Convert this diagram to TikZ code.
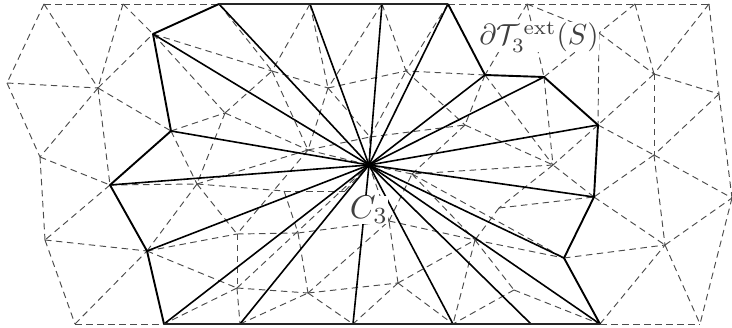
\documentclass[tikz,border=0pt]{standalone}
\tikzset{
  meshedge/.style={draw=black!70,line width=0.95pt,dash pattern=on 6.5pt off 4.5pt},
  bndedge/.style={draw=black,line width=1.9pt,line join=round},
  spoke/.style={draw=black,line width=1.6pt},
  flatedge/.style={draw=black!85,line width=2.4pt},
  lbl/.style={fill=white,inner sep=0pt,text=black!75,scale=2.9},
  lblb/.style={fill=white,inner sep=0pt,text=black!75,scale=3.3}
}
\begin{document}
\begin{tikzpicture}[x=1pt,y=-1pt]
\useasboundingbox (0,0) rectangle (732,328);
% boundary vertices
\foreach \n/\x/\y in {A/153/34,t1/219/4,t2/310/4,t3/382/4,t4/448/4,F/485/75,G/544/77,H/598/125,I/594/197,J/564/258,K/600/324,b4/531/324,b3/453/324,b2/353/324,b1/240/324,b0/164/324,M/147/251,N/110/185,O/171/131,ctr/369/165}
  \coordinate (\n) at (\x,\y);
% outer vertices
\foreach \n/\x/\y in {a/44/4,b/123/4,c/527/4,d/635/4,e/709/4,f/599/33,g/654/74,h/719/94,i/654/155,j/7/83,k/98/88,l/40/157,m/45/240,n/75/324,o/665/245,p/732/198,q/700/324}
  \coordinate (\n) at (\x,\y);
% inner vertices
\foreach \n/\x/\y in {vA/225/113,vB/272/71,vC/328/88,vD/308/150,vE/370/137,vF/406/71,vG/465/125,vH/553/165,vI/197/184,vJ/237/234,vK/237/288,vL/298/233,vM/284/191,vN/308/293,vP/398/283,vQ/389/221,vR/475/240,vS/412/174,vT/499/208,vU/514/290,vV/345/191}
  \coordinate (\n) at (\x,\y);
% dashed mesh
\foreach \u/\w in {a/b,b/t1,t4/c,c/d,d/e,K/q,n/b0,a/j,a/k,b/k,b/A,j/k,j/l,k/l,k/A,k/O,k/N,l/N,l/m,N/m,m/M,m/n,n/M,
  e/g,e/h,d/g,d/f,c/f,c/F,c/G,G/f,f/H,f/g,g/H,g/h,g/i,h/i,h/p,H/i,i/I,i/o,i/p,I/o,J/o,K/o,o/q,o/p,p/q,
  A/vA,O/vA,O/vI,A/vB,t1/vB,t2/vB,vA/vB,vA/vI,vA/vD,vB/vC,vB/vD,t2/vC,t3/vC,vC/vD,vC/vE,vC/vF,vD/vE,vD/vI,vD/vJ,vD/ctr,
  vE/vF,vE/vG,vE/ctr,t3/vF,t4/vF,F/vF,vF/vG,F/vG,vG/vH,vG/vS,F/vH,G/vH,H/vH,I/vH,vH/vT,vH/vS,
  N/vI,M/vI,vI/vJ,vI/vM,vM/vV,vV/ctr,M/vJ,M/vK,vJ/vK,vK/b1,vK/b0,vK/ctr,vJ/vL,vL/vQ,vM/vL,vL/vN,vK/vN,b1/vN,vN/vP,vN/vQ,vN/b2,
  vP/vQ,vP/vR,vP/b2,vP/b3,vQ/vS,vQ/vR,vQ/ctr,vS/ctr,vS/vR,vS/J,vT/I,vT/vR,vR/J,vR/b3,vR/vU,vU/b3,vU/K}
  \draw[meshedge] (\u) -- (\w);
% spokes from the centre
\foreach \w in {A,t1,t2,t3,t4,F,G,H,I,J,K,b4,b3,b2,b1,b0,M,N,O}
  \draw[spoke] (ctr) -- (\w);
% boundary
\draw[bndedge] (b0) -- (M) -- (N) -- (O) -- (A) -- (t1);
\draw[bndedge] (t4) -- (F) -- (G) -- (H) -- (I) -- (J) -- (K);
\draw[flatedge] (t1) -- (t4);
\draw[flatedge] (b0) -- (K);
% labels
\node[lbl] (lblT) at (539,37) {$\partial\mathcal{T}_3^{\,\mathrm{ext}}(S)$};
\node[lblb] (lblC) at (369,210) {$C_3$};
\end{tikzpicture}
\end{document}
